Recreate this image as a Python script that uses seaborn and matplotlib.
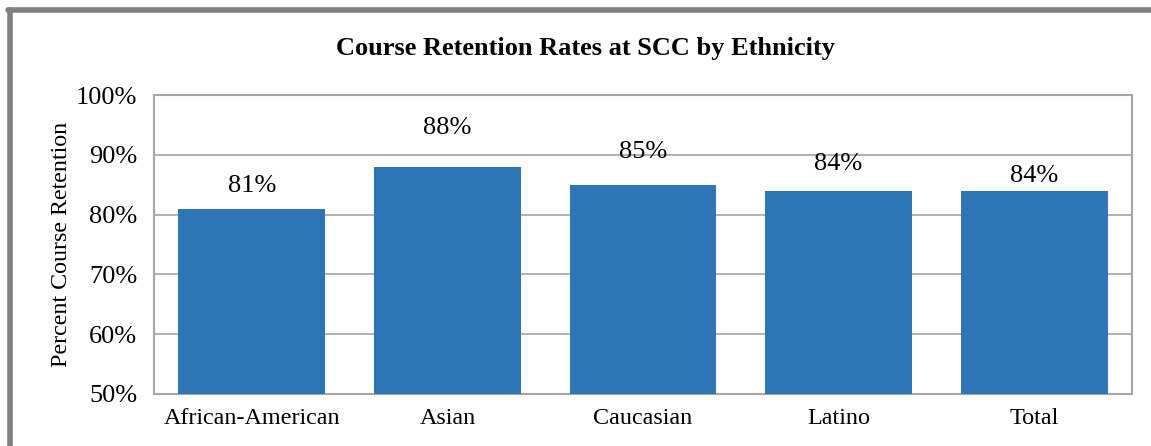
import pandas as pd
import numpy as np
import matplotlib
matplotlib.use('Agg')
import matplotlib.pyplot as plt
import seaborn as sns
from matplotlib.lines import Line2D

sns.set_style('white')
plt.rcParams['font.family'] = ['Liberation Serif', 'DejaVu Serif']
plt.rcParams['text.color'] = 'black'
plt.rcParams['xtick.color'] = 'black'
plt.rcParams['ytick.color'] = 'black'
plt.rcParams['axes.labelcolor'] = 'black'

# data
ethnicity = ['African-American', 'Asian', 'Caucasian', 'Latino', 'Total']
retention = [81, 88, 85, 84, 84]
value_labels = ['81%', '88%', '85%', '84%', '84%']
y_ticks = [50, 60, 70, 80, 90, 100]

# label placement above bar tops (pixels), as in the original layout
label_offsets = [23, 39, 33, 27, 15]

df = pd.DataFrame({'ethnicity': ethnicity, 'retention': retention})

fig = plt.figure(figsize=(11.51, 4.46), dpi=100)
ax = fig.add_axes([154 / 1151, 1 - 394 / 446, (1132 - 154) / 1151, (394 - 95) / 446])

sns.barplot(data=df, x='ethnicity', y='retention', color='#2E75B6',
            saturation=1, width=0.75, ax=ax, zorder=3, edgecolor='none')

ax.set_ylim(50, 100)
ax.set_yticks(y_ticks)
ax.set_yticklabels([f'{t}%' for t in y_ticks])
ax.yaxis.grid(True, color='#A6A6A6', linewidth=1.2, zorder=0)
ax.set_axisbelow(True)
for s in ax.spines.values():
    s.set_color('#A6A6A6')
    s.set_linewidth(1.5)
    s.set_visible(True)

ax.tick_params(axis='y', length=5, width=1.2, color='#A6A6A6', labelcolor='black',
               labelsize=19, pad=7)
ax.tick_params(axis='x', length=0, labelsize=17.4, labelcolor='black', pad=10)
ax.set_xlabel('')
ax.set_ylabel('Percent Course Retention', fontsize=17.3, labelpad=3)

for i, (v, lab) in enumerate(zip(retention, value_labels)):
    ax.annotate(lab, (i, v), xytext=(0, label_offsets[i]), textcoords='offset pixels',
                ha='center', va='center', fontsize=19)

fig.text(585 / 1151, 1 - 48 / 446, 'Course Retention Rates at SCC by Ethnicity',
         ha='center', va='center', fontsize=19, fontweight='bold')

# outer gray frame (left and top edges visible)
fig.add_artist(Line2D([10 / 1151, 10 / 1151], [0, 1 - 10 / 446], transform=fig.transFigure,
                      color='#808080', linewidth=4))
fig.add_artist(Line2D([8 / 1151, 1], [1 - 10 / 446, 1 - 10 / 446], transform=fig.transFigure,
                      color='#808080', linewidth=4))

fig.savefig('out.png', dpi=100)
